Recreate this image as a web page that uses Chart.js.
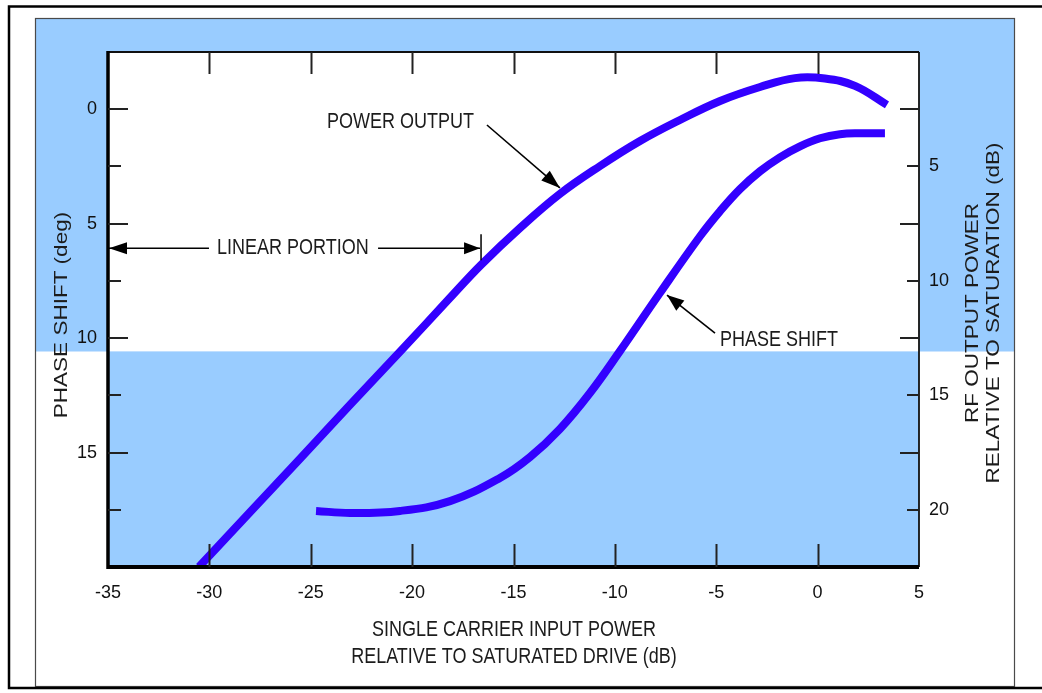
<!DOCTYPE html>
<html>
<head>
<meta charset="utf-8">
<script src="https://cdn.jsdelivr.net/npm/chart.js@4/dist/chart.umd.min.js"></script>
<style>
html,body{margin:0;padding:0;background:#fff;}
canvas{display:block;}
</style>
</head>
<body>
<canvas id="c" width="1042" height="693"></canvas>
<script>
// ---- data ----
const xTickValues = [-35, -30, -25, -20, -15, -10, -5, 0, 5];
const phaseTickValues = [0, 5, 10, 15];
const powerTickValues = [5, 10, 15, 20];

// Power output (right axis, dB below saturation) vs input power
const powerInput  = [-30.51, -28.00, -25.53, -23.06, -20.60, -18.13, -16.60, -14.68, -12.71, -10.73, -8.76, -6.79, -4.81, -2.84, -1.12, 0.36, 1.84, 3.42];
const powerOutput = [22.49, 20.11, 17.77, 15.41, 13.10, 10.74, 9.30, 7.69, 6.20, 4.98, 3.89, 2.97, 2.14, 1.53, 1.14, 1.16, 1.48, 2.31];

// Phase shift (left axis, deg) vs input power
const phaseInput = [-24.74, -23.06, -20.60, -18.13, -15.67, -14.19, -12.71, -11.23, -9.75, -7.78, -5.80, -4.81, -3.83, -2.84, -1.86, -0.87, 0.12, 1.10, 2.09, 3.32];
const phaseShift = [17.55, 17.64, 17.55, 17.12, 16.11, 15.20, 13.97, 12.40, 10.57, 8.03, 5.55, 4.45, 3.49, 2.71, 2.10, 1.62, 1.27, 1.09, 1.05, 1.05];

// annotation anchors (data coordinates)
const powerLabel = {text: 'POWER OUTPUT', x: -24.2, y: 3.06, fromX: -16.31, fromY: 3.19, toX: -12.71, toY: 5.94};
const phaseLabel = {text: 'PHASE SHIFT', x: -4.82, y: 10.09, fromX: -5.06, fromY: 9.78, toX: -7.43, toY: 8.12};
const linearLabel = {text: 'LINEAR PORTION', textX: -29.62, y: 6.07, leftTip: -35, leftEnd: -30.02, rightStart: -21.68, rightTip: -16.65};

const BLUE = '#99ccff';
const LINE = '#3300ff';
const TEXT = '#1c1c1c';
const FONT = '"Liberation Sans", Arial, Helvetica, sans-serif';
const SPLIT = 351.5;

function stretchedText(ctx, text, x, y, opts) {
  ctx.save();
  ctx.translate(x, y);
  if (opts.rotate) ctx.rotate(opts.rotate);
  ctx.scale(opts.sx || 1, opts.sy || 1);
  ctx.font = (opts.size || 18) + 'px ' + FONT;
  ctx.fillStyle = TEXT;
  ctx.textAlign = opts.align || 'left';
  ctx.textBaseline = 'middle';
  ctx.fillText(text, 0, 0);
  ctx.restore();
}

function arrowHead(ctx, x0, y0, x1, y1, len, half) {
  const ang = Math.atan2(y1 - y0, x1 - x0);
  ctx.beginPath();
  ctx.moveTo(x1, y1);
  ctx.lineTo(x1 - len * Math.cos(ang) + half * Math.sin(ang), y1 - len * Math.sin(ang) - half * Math.cos(ang));
  ctx.lineTo(x1 - len * Math.cos(ang) - half * Math.sin(ang), y1 - len * Math.sin(ang) + half * Math.cos(ang));
  ctx.closePath();
  ctx.fill();
}

const decor = {
  id: 'decor',
  beforeDraw(chart) {
    const ctx = chart.ctx, a = chart.chartArea;
    const W = chart.width, H = chart.height;
    ctx.save();
    ctx.fillStyle = '#fff';
    ctx.fillRect(0, 0, W, H);
    ctx.fillStyle = BLUE;
    ctx.fillRect(35, 18, 980, SPLIT - 18);
    ctx.fillStyle = '#fff';
    ctx.fillRect(a.left, a.top, a.right - a.left, SPLIT - a.top);
    ctx.fillStyle = BLUE;
    ctx.fillRect(a.left, SPLIT, a.right - a.left, a.bottom - SPLIT);
    // inner box border
    ctx.strokeStyle = '#4a4a4a';
    ctx.lineWidth = 1.2;
    ctx.strokeRect(35.5, 18.5, 979, 668);
    // outer frame
    ctx.strokeStyle = '#000';
    ctx.lineWidth = 2.5;
    ctx.beginPath();
    ctx.moveTo(1050, 6.5);
    ctx.lineTo(9, 6.5);
    ctx.lineTo(9, 688);
    ctx.lineTo(1050, 688);
    ctx.stroke();
    ctx.restore();
  },
  afterDatasetsDraw(chart) {
    const ctx = chart.ctx, a = chart.chartArea;
    const xs = chart.scales.x, yl = chart.scales.y, yr = chart.scales.y2;
    ctx.save();
    // frame
    ctx.strokeStyle = '#111';
    ctx.lineWidth = 2;
    ctx.beginPath(); ctx.moveTo(a.left, a.top); ctx.lineTo(a.right, a.top); ctx.stroke();
    ctx.lineWidth = 1.8;
    ctx.beginPath(); ctx.moveTo(a.right, a.top); ctx.lineTo(a.right, a.bottom); ctx.stroke();
    ctx.strokeStyle = '#000';
    ctx.lineWidth = 3.5;
    ctx.beginPath(); ctx.moveTo(a.left, a.top - 1); ctx.lineTo(a.left, a.bottom + 2); ctx.stroke();
    ctx.lineWidth = 4;
    ctx.beginPath(); ctx.moveTo(a.left - 1, a.bottom); ctx.lineTo(a.right, a.bottom); ctx.stroke();

    // ticks
    ctx.strokeStyle = '#222';
    ctx.lineWidth = 2;
    xTickValues.forEach(v => {
      if (v <= xs.min || v >= xs.max) return;
      const px = Math.round(xs.getPixelForValue(v)) + 0.5;
      ctx.beginPath(); ctx.moveTo(px, a.top); ctx.lineTo(px, a.top + 22); ctx.stroke();
      ctx.beginPath(); ctx.moveTo(px, a.bottom); ctx.lineTo(px, a.bottom - 23); ctx.stroke();
    });
    for (let v = 0; v < yl.max; v += 2.5) {
      const py = Math.round(yl.getPixelForValue(v));
      const major = (v % 5 === 0);
      ctx.beginPath(); ctx.moveTo(a.left, py); ctx.lineTo(a.left + (major ? 20 : 13), py); ctx.stroke();
    }
    for (let v = 2.5; v < yr.max; v += 2.5) {
      const py = Math.round(yr.getPixelForValue(v));
      const labelled = (v % 5 === 0);
      ctx.beginPath(); ctx.moveTo(a.right, py); ctx.lineTo(a.right - (labelled ? 12 : 19), py); ctx.stroke();
    }

    // annotations
    ctx.fillStyle = '#000';
    ctx.strokeStyle = '#000';
    ctx.lineWidth = 1.6;
    // power output
    {
      const tx = xs.getPixelForValue(powerLabel.x), ty = yr.getPixelForValue(powerLabel.y);
      stretchedText(ctx, powerLabel.text, tx, ty, {sy: 1.18});
      const x0 = xs.getPixelForValue(powerLabel.fromX), y0 = yr.getPixelForValue(powerLabel.fromY);
      const x1 = xs.getPixelForValue(powerLabel.toX), y1 = yr.getPixelForValue(powerLabel.toY);
      ctx.beginPath(); ctx.moveTo(x0, y0); ctx.lineTo(x1, y1); ctx.stroke();
      arrowHead(ctx, x0, y0, x1, y1, 19, 6.5);
    }
    // phase shift
    {
      const tx = xs.getPixelForValue(phaseLabel.x), ty = yl.getPixelForValue(phaseLabel.y);
      stretchedText(ctx, phaseLabel.text, tx, ty, {sy: 1.18});
      const x0 = xs.getPixelForValue(phaseLabel.fromX), y0 = yl.getPixelForValue(phaseLabel.fromY);
      const x1 = xs.getPixelForValue(phaseLabel.toX), y1 = yl.getPixelForValue(phaseLabel.toY);
      ctx.beginPath(); ctx.moveTo(x0, y0); ctx.lineTo(x1, y1); ctx.stroke();
      arrowHead(ctx, x0, y0, x1, y1, 17, 6.5);
    }
    // linear portion
    {
      const py = yl.getPixelForValue(linearLabel.y);
      const lt = xs.getPixelForValue(linearLabel.leftTip), le = xs.getPixelForValue(linearLabel.leftEnd);
      const rs = xs.getPixelForValue(linearLabel.rightStart), rt = xs.getPixelForValue(linearLabel.rightTip);
      ctx.lineWidth = 1.5;
      ctx.beginPath(); ctx.moveTo(le, py); ctx.lineTo(lt, py); ctx.stroke();
      arrowHead(ctx, le, py, lt + 1, py, 18, 6);
      ctx.beginPath(); ctx.moveTo(rs, py); ctx.lineTo(rt, py); ctx.stroke();
      arrowHead(ctx, rs, py, rt, py, 16, 6);
      ctx.beginPath(); ctx.moveTo(rt + 1, py - 14); ctx.lineTo(rt + 1, py + 12); ctx.stroke();
      stretchedText(ctx, linearLabel.text, xs.getPixelForValue(linearLabel.textX), py, {sy: 1.18});
    }

    // axis titles
    stretchedText(ctx, 'PHASE SHIFT (deg)', 62, 315, {rotate: -Math.PI / 2, sx: 1.25, align: 'center'});
    stretchedText(ctx, 'RF OUTPUT POWER', 973, 313, {rotate: -Math.PI / 2, sx: 1.25, align: 'center'});
    stretchedText(ctx, 'RELATIVE TO SATURATION (dB)', 994, 313, {rotate: -Math.PI / 2, sx: 1.25, align: 'center'});
    stretchedText(ctx, 'SINGLE CARRIER INPUT POWER', 514, 630, {sy: 1.18, align: 'center'});
    stretchedText(ctx, 'RELATIVE TO SATURATED DRIVE (dB)', 514, 657, {sy: 1.18, align: 'center'});
    ctx.restore();
  }
};

const tickFont = {family: FONT, size: 18};

new Chart(document.getElementById('c'), {
  type: 'line',
  data: {
    datasets: [
      {
        label: 'Power output',
        data: powerInput.map((x, i) => ({x: x, y: powerOutput[i]})),
        yAxisID: 'y2',
        borderColor: LINE, borderWidth: 8, borderCapStyle: 'butt',
        pointRadius: 0, fill: false, tension: 0.4, clip: 0
      },
      {
        label: 'Phase shift',
        data: phaseInput.map((x, i) => ({x: x, y: phaseShift[i]})),
        yAxisID: 'y',
        borderColor: LINE, borderWidth: 8, borderCapStyle: 'butt',
        pointRadius: 0, fill: false, tension: 0.4, clip: 0
      }
    ]
  },
  options: {
    responsive: false,
    devicePixelRatio: 1,
    animation: false,
    events: [],
    layout: {padding: {top: 52, left: 0, right: 0, bottom: 0}},
    plugins: {legend: {display: false}, tooltip: {enabled: false}, title: {display: false}},
    scales: {
      x: {
        type: 'linear', position: 'bottom', min: -35, max: 5,
        grid: {display: false, drawTicks: false},
        border: {display: false},
        afterBuildTicks: s => { s.ticks = xTickValues.map(v => ({value: v})); },
        afterFit: s => { s.height = 126; },
        ticks: {font: tickFont, color: '#111', padding: 15, maxRotation: 0, autoSkip: false, callback: v => String(v)}
      },
      y: {
        type: 'linear', position: 'left', min: -2.5, max: 20, reverse: true,
        grid: {display: false, drawTicks: false},
        border: {display: false},
        afterBuildTicks: s => { s.ticks = phaseTickValues.map(v => ({value: v})); },
        afterFit: s => { s.width = 108; },
        ticks: {font: tickFont, color: '#111', padding: 11, autoSkip: false, callback: v => String(v)}
      },
      y2: {
        type: 'linear', position: 'right', min: 0, max: 22.5, reverse: true,
        grid: {display: false, drawTicks: false},
        border: {display: false},
        afterBuildTicks: s => { s.ticks = powerTickValues.map(v => ({value: v})); },
        afterFit: s => { s.width = 123; },
        ticks: {font: tickFont, color: '#111', padding: 10, autoSkip: false, callback: v => String(v)}
      }
    }
  },
  plugins: [decor]
});
</script>
</body>
</html>
